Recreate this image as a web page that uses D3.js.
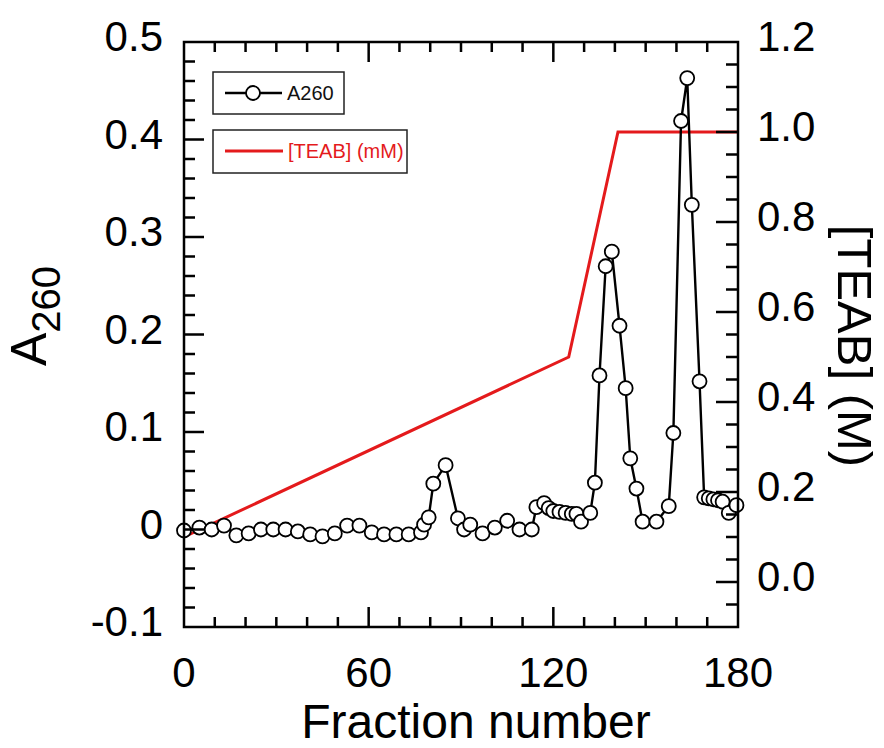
<!DOCTYPE html>
<html>
<head>
<meta charset="utf-8">
<script src="https://cdn.jsdelivr.net/npm/d3@7"></script>
</head>
<body style="margin:0">
<div id="chart"></div>
<script>
// A260 elution profile (left axis)
var fraction = [0, 5, 9, 13, 17, 21, 25, 29, 33, 37, 41, 45, 49, 53, 57, 61, 65, 69, 73, 77,
  78, 79.5, 81, 85, 89, 91, 93, 97, 101, 105, 109, 113, 114.5, 117, 118.5, 120, 122, 124, 126,
  127.5, 129, 132, 133.5, 135, 137, 139, 141.5, 143.5, 145, 147, 149, 153.5, 157.5, 159, 161.5,
  163.5, 165, 167.5, 169, 170.5, 172, 173.5, 175, 177, 179.5];
var a260 = [-0.001, 0.002, 0.0, 0.004, -0.006, -0.004, 0.0, 0.0, 0.0, -0.002, -0.005, -0.007,
  -0.004, 0.004, 0.004, -0.003, -0.005, -0.005, -0.005, -0.003, 0.005, 0.0125, 0.047, 0.066,
  0.0115, 0.0, 0.005, -0.004, 0.002, 0.009, 0.0, 0.0, 0.023, 0.027, 0.022, 0.019, 0.018, 0.017,
  0.016, 0.016, 0.008, 0.017, 0.048, 0.158, 0.270, 0.285, 0.209, 0.145, 0.073, 0.042, 0.008,
  0.008, 0.024, 0.099, 0.419, 0.463, 0.333, 0.152, 0.033, 0.032, 0.031, 0.030, 0.0285, 0.017, 0.025];

// TEAB gradient (right axis)
var teabFraction = [0, 125, 141, 180];
var teabConc = [0.1, 0.5, 1.0, 1.0];

// ticks
var xMajorTicks = [0, 60, 120, 180];
var xTickLabels = ['0', '60', '120', '180'];
var leftMajorTicks = [-0.1, 0, 0.1, 0.2, 0.3, 0.4, 0.5];
var leftTickLabels = ['-0.1', '0', '0.1', '0.2', '0.3', '0.4', '0.5'];
var rightMajorTicks = [0, 0.2, 0.4, 0.6, 0.8, 1.0, 1.2];
var rightTickLabels = ['0.0', '0.2', '0.4', '0.6', '0.8', '1.0', '1.2'];

var W = 884, H = 748;
var box = { left: 184, right: 738, top: 42, bottom: 627 };
var red = '#e41a1c';

var svg = d3.select('#chart').append('svg')
  .attr('width', W)
  .attr('height', H);

var x = d3.scaleLinear().domain([0, 180]).range([box.left, box.right]);
var yL = d3.scaleLinear().domain([-0.1, 0.5]).range([box.bottom, box.top]);
var yR = d3.scaleLinear().domain([-0.1, 1.2]).range([box.bottom, box.top]);

function txt(parent) {
  return parent.append('text').attr('font-family', '"Liberation Sans", Arial, sans-serif');
}

// --- data
var teab = teabFraction.map(function(f, i) { return [f, teabConc[i]]; });
svg.append('path')
  .datum(teab)
  .attr('fill', 'none')
  .attr('stroke', red)
  .attr('stroke-width', 3)
  .attr('d', d3.line().x(function(d) { return x(d[0]); }).y(function(d) { return yR(d[1]); }));

var pts = fraction.map(function(f, i) { return [f, a260[i]]; });
svg.append('path')
  .datum(pts)
  .attr('fill', 'none')
  .attr('stroke', '#000')
  .attr('stroke-width', 2.4)
  .attr('d', d3.line().x(function(d) { return x(d[0]); }).y(function(d) { return yL(d[1]); }));

svg.append('g').selectAll('circle')
  .data(pts)
  .enter()
  .append('circle')
  .attr('cx', function(d) { return x(d[0]); })
  .attr('cy', function(d) { return yL(d[1]); })
  .attr('r', 7)
  .attr('fill', '#fff')
  .attr('stroke', '#000')
  .attr('stroke-width', 1.8);

// --- frame and inward ticks, built as one path from the scales
var xMinor = d3.range(0, 181, 10);
var leftMinor = d3.range(-0.1, 0.501, 0.02);
var rightMinor = d3.range(-0.1, 1.201, 0.05);

var p = d3.path();
p.rect(box.left, box.top, box.right - box.left, box.bottom - box.top);
function xTicks(values, len) {
  values.forEach(function(v) {
    p.moveTo(x(v), box.bottom); p.lineTo(x(v), box.bottom - len);
    p.moveTo(x(v), box.top); p.lineTo(x(v), box.top + len);
  });
}
function yTicks(scale, values, x0, dir, len) {
  values.forEach(function(v) {
    p.moveTo(x0, scale(v)); p.lineTo(x0 + dir * len, scale(v));
  });
}
xTicks(xMinor, 10);
xTicks(xMajorTicks, 20);
yTicks(yL, leftMinor, box.left, 1, 11);
yTicks(yL, leftMajorTicks, box.left, 1, 20);
yTicks(yR, rightMinor, box.right, -1, 12);
yTicks(yR, rightMajorTicks, box.right, -1, 22);

svg.append('path')
  .attr('d', p.toString())
  .attr('fill', 'none')
  .attr('stroke', '#000')
  .attr('stroke-width', 2.5);

// --- tick labels
xMajorTicks.forEach(function(v, i) {
  txt(svg).attr('x', x(v)).attr('y', 687)
    .attr('text-anchor', 'middle').attr('font-size', 42)
    .text(xTickLabels[i]);
});
leftMajorTicks.forEach(function(v, i) {
  txt(svg).attr('x', box.left - 21).attr('y', yL(v) + 9)
    .attr('text-anchor', 'end').attr('font-size', 42)
    .text(leftTickLabels[i]);
});
rightMajorTicks.forEach(function(v, i) {
  txt(svg).attr('x', box.right + 19).attr('y', yR(v) + 9)
    .attr('font-size', 42)
    .text(rightTickLabels[i]);
});

// --- titles
txt(svg).attr('x', 476).attr('y', 738)
  .attr('text-anchor', 'middle').attr('font-size', 48)
  .text('Fraction number');

var yTitle = txt(svg)
  .attr('transform', 'translate(46,316) rotate(-90)')
  .attr('text-anchor', 'middle')
  .attr('font-size', 50);
yTitle.append('tspan').text('A');
yTitle.append('tspan').attr('font-size', 40).attr('dy', 14).text('260');

txt(svg).attr('transform', 'translate(838,346) rotate(90)')
  .attr('text-anchor', 'middle').attr('font-size', 49)
  .text('[TEAB] (M)');

// --- legend
var leg = svg.append('g');
leg.append('rect')
  .attr('x', 213).attr('y', 72).attr('width', 131).attr('height', 42)
  .attr('fill', '#fff').attr('stroke', '#222').attr('stroke-width', 1.5);
leg.append('line')
  .attr('x1', 225).attr('x2', 282).attr('y1', 93).attr('y2', 93)
  .attr('stroke', '#000').attr('stroke-width', 2.4);
leg.append('circle')
  .attr('cx', 253).attr('cy', 93).attr('r', 7)
  .attr('fill', '#fff').attr('stroke', '#000').attr('stroke-width', 1.8);
txt(leg).attr('x', 287).attr('y', 100).attr('font-size', 20).attr('fill', '#111')
  .text('A260');

leg.append('rect')
  .attr('x', 213).attr('y', 130).attr('width', 194).attr('height', 43)
  .attr('fill', '#fff').attr('stroke', '#222').attr('stroke-width', 1.5);
leg.append('line')
  .attr('x1', 225).attr('x2', 283).attr('y1', 151).attr('y2', 151)
  .attr('stroke', red).attr('stroke-width', 3);
txt(leg).attr('x', 288).attr('y', 158).attr('font-size', 20).attr('fill', red)
  .text('[TEAB] (mM)');
</script>
</body>
</html>
